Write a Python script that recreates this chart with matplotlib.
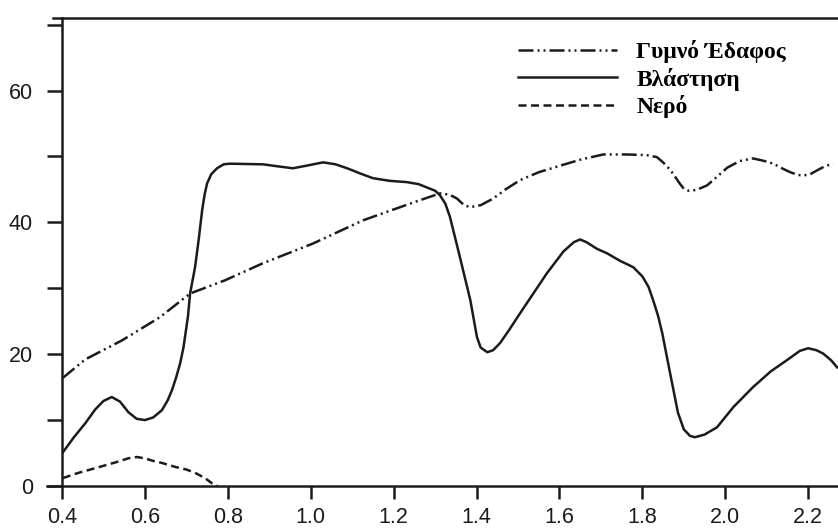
import matplotlib.pyplot as plt
from matplotlib.ticker import MultipleLocator

# wavelength (um) and reflectance (%)
soil_x = [0.402, 0.456, 0.545, 0.636, 0.709, 0.793, 0.885, 1.006, 1.126, 1.247,
          1.312, 1.335, 1.353, 1.37, 1.385, 1.41, 1.44, 1.47, 1.505, 1.55,
          1.602, 1.65, 1.706, 1.76, 1.81, 1.835, 1.85, 1.862, 1.874, 1.89,
          1.90, 1.911, 1.93, 1.956, 1.98, 2.005, 2.035, 2.067, 2.095, 2.116,
          2.14, 2.157, 2.175, 2.188, 2.205, 2.222, 2.24, 2.26]
soil_y = [16.4, 19.2, 22.1, 25.6, 29.2, 31.2, 33.8, 36.8, 40.3, 43.0,
          44.4, 44.2, 43.6, 42.6, 42.3, 42.6, 43.6, 45.0, 46.4, 47.6,
          48.6, 49.5, 50.3, 50.3, 50.2, 49.9, 49.1, 48.3, 47.4, 45.9,
          45.1, 44.8, 44.9, 45.6, 46.9, 48.3, 49.3, 49.7, 49.3, 48.9,
          48.1, 47.6, 47.2, 47.1, 47.3, 47.9, 48.5, 48.9]

veg_x = [0.402, 0.43, 0.456, 0.48, 0.50, 0.52, 0.54, 0.56, 0.58, 0.60,
         0.62, 0.641, 0.655, 0.665, 0.675, 0.685, 0.693, 0.699, 0.704, 0.709,
         0.721, 0.73, 0.738, 0.744, 0.75, 0.76, 0.774, 0.79, 0.805, 0.885,
         0.92, 0.957, 0.99, 1.03, 1.06, 1.088, 1.12, 1.15, 1.19, 1.232,
         1.26, 1.28, 1.30, 1.312, 1.325, 1.336, 1.36, 1.385, 1.401, 1.41,
         1.426, 1.44, 1.457, 1.48, 1.505, 1.57, 1.61, 1.635, 1.65, 1.665,
         1.69, 1.715, 1.745, 1.778, 1.80, 1.815, 1.826, 1.838, 1.848, 1.867,
         1.886, 1.90, 1.915, 1.927, 1.95, 1.98, 2.02, 2.067, 2.11, 2.149,
         2.18, 2.20, 2.22, 2.236, 2.255, 2.27]
veg_y = [5.1, 7.5, 9.5, 11.6, 12.9, 13.5, 12.8, 11.2, 10.2, 10.0,
         10.4, 11.5, 13.0, 14.5, 16.4, 18.6, 21.0, 23.6, 25.8, 29.2,
         33.2, 37.5, 41.8, 44.2, 45.9, 47.3, 48.2, 48.8, 48.9, 48.8,
         48.5, 48.2, 48.6, 49.1, 48.8, 48.2, 47.4, 46.7, 46.3, 46.1,
         45.8, 45.3, 44.8, 44.1, 42.8, 40.8, 34.7, 28.2, 22.6, 21.0,
         20.3, 20.6, 21.7, 23.8, 26.2, 32.3, 35.6, 37.0, 37.4, 37.0,
         36.0, 35.3, 34.2, 33.2, 31.8, 30.2, 28.2, 25.8, 23.2, 17.1,
         11.1, 8.6, 7.6, 7.4, 7.8, 8.9, 12.0, 15.0, 17.4, 19.1,
         20.5, 20.9, 20.6, 20.1, 19.1, 18.0]

water_x = [0.402, 0.44, 0.48, 0.53, 0.56, 0.58, 0.60, 0.62, 0.641, 0.673,
           0.70, 0.721, 0.745, 0.762, 0.775]
water_y = [1.2, 2.0, 2.7, 3.6, 4.2, 4.4, 4.2, 3.8, 3.5, 2.9,
           2.5, 2.0, 1.2, 0.4, 0.0]

labels = ['Γυμνό Έδαφος', 'Βλάστηση', 'Νερό']
xticks = [0.4, 0.6, 0.8, 1.0, 1.2, 1.4, 1.6, 1.8, 2.0, 2.2]
yticks = [0, 20, 40, 60]

plt.rcParams['font.family'] = ['Liberation Sans', 'DejaVu Sans']

fig = plt.figure(figsize=(8.38, 5.32), dpi=100)
ax = fig.add_axes([62 / 838, 46 / 532, (838 - 62) / 838, 468 / 532])

ink = '#1e1a1a'
ax.plot(soil_x, soil_y, color=ink, lw=1.8, dashes=(6, 1.6, 0.8, 1.6, 0.8, 1.6),
        label=labels[0])
ax.plot(veg_x, veg_y, color=ink, lw=1.8, label=labels[1])
ax.plot(water_x, water_y, color=ink, lw=1.8, dashes=(3.2, 1.8), label=labels[2])

ax.set_xlim(0.4, 2.272)
ax.set_ylim(0, 71)
ax.set_xticks(xticks)
ax.set_xticklabels([f'{t:.1f}' for t in xticks])
ax.set_yticks(yticks)
ax.yaxis.set_minor_locator(MultipleLocator(10))

for side in ['left', 'bottom', 'top']:
    ax.spines[side].set_linewidth(1.8)
    ax.spines[side].set_color(ink)
ax.spines['right'].set_visible(False)
ax.spines['bottom'].set_bounds(0.365, 2.272)
ax.spines['top'].set_bounds(0.378, 2.272)

ax.tick_params(which='both', direction='out', length=9, width=1.8, color=ink)
ax.tick_params(axis='y', which='both', length=11, pad=10)
ax.tick_params(axis='x', pad=6)
ax.tick_params(labelsize=15.5, labelcolor=ink)

leg = ax.legend(loc='upper left', bbox_to_anchor=(0.588, 0.953), frameon=False,
                borderpad=0, borderaxespad=0,
                handlelength=4.2, handletextpad=0.8, labelspacing=0.2,
                prop={'family': 'Liberation Serif', 'weight': 'bold', 'size': 17})

fig.savefig('out.png', dpi=100)
